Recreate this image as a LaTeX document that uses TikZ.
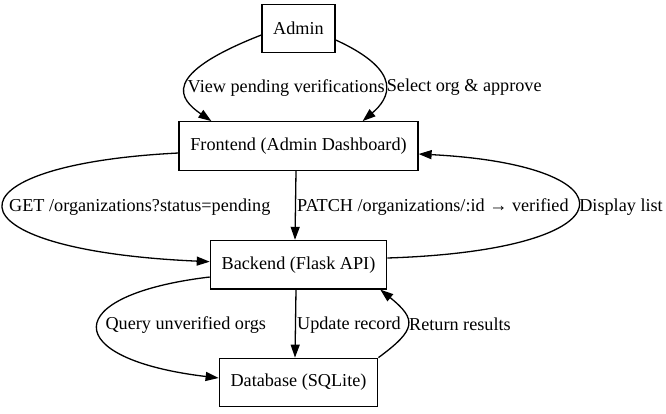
\documentclass[tikz,border=0pt]{standalone}
\usepackage{fontspec}
\setmainfont{Liberation Serif}
\usetikzlibrary{arrows.meta}

\begin{document}
\begin{tikzpicture}[x=1pt, y=-1pt,
  box/.style={draw, line width=1.3pt, inner xsep=11.3pt, minimum height=48.5pt},
  flow/.style={line width=1.3pt, -{Triangle[length=13pt, width=9pt]}},
  lbl/.style={anchor=west, inner sep=1pt},
  font=\fontsize{18.2}{21}\selectfont]
\useasboundingbox (0,0) rectangle (666,413);

\node[box] (admin) at (298.5,28.5) {Admin};
\node[box] (front) at (298.5,146) {Frontend (Admin Dashboard)};
\node[box] (back) at (298.5,264.7) {Backend (Flask API)};
\node[box] (db) at (298.5,382.5) {Database (SQLite)};

% admin actions
\draw[flow] ([yshift=-6.5pt]admin.west) .. controls +(-102,40) and +(-32,-22) .. ([xshift=33pt]front.north west)
  node[lbl, pos=0.5, yshift=-3pt] {View pending verifications};
\draw[flow] ([yshift=-11.5pt]admin.east) .. controls +(70,32) and +(26,-22) .. ([xshift=-56pt]front.north east)
  node[lbl, pos=0.5, yshift=-3pt] {Select org \& approve};

% frontend <-> backend
\draw[flow] ([yshift=-7pt]front.west) .. controls +(-238,12) and +(-270,-12) .. ([yshift=3pt]back.west)
  node[lbl, pos=0.5, xshift=4pt] {GET /organizations?status=pending};
\draw[flow] ([xshift=-2.5pt]front.south) -- ([xshift=-3.5pt]back.north)
  node[lbl, pos=0.5, yshift=-2pt] {PATCH /organizations/:id → verified};
\draw[flow] ([yshift=6.7pt]back.east) .. controls +(249,-8) and +(217,11) .. ([yshift=-8pt]front.east)
  node[lbl, pos=0.5] {Display list};

% backend <-> database
\draw[flow] ([yshift=-12.3pt]back.west) .. controls +(-151,18) and +(-159,-19) .. ([yshift=4.5pt]db.west)
  node[lbl, pos=0.5, xshift=6pt, yshift=2pt] {Query unverified orgs};
\draw[flow] ([xshift=-2.5pt]back.south) -- ([xshift=-3.5pt]db.north)
  node[lbl, pos=0.5, yshift=-2pt] {Update record};
\draw[flow] (db.north east) .. controls +(38,-28) and +(37,30) .. ([xshift=-7pt]back.south east)
  node[lbl, pos=0.5] {Return results};
\end{tikzpicture}
\end{document}
